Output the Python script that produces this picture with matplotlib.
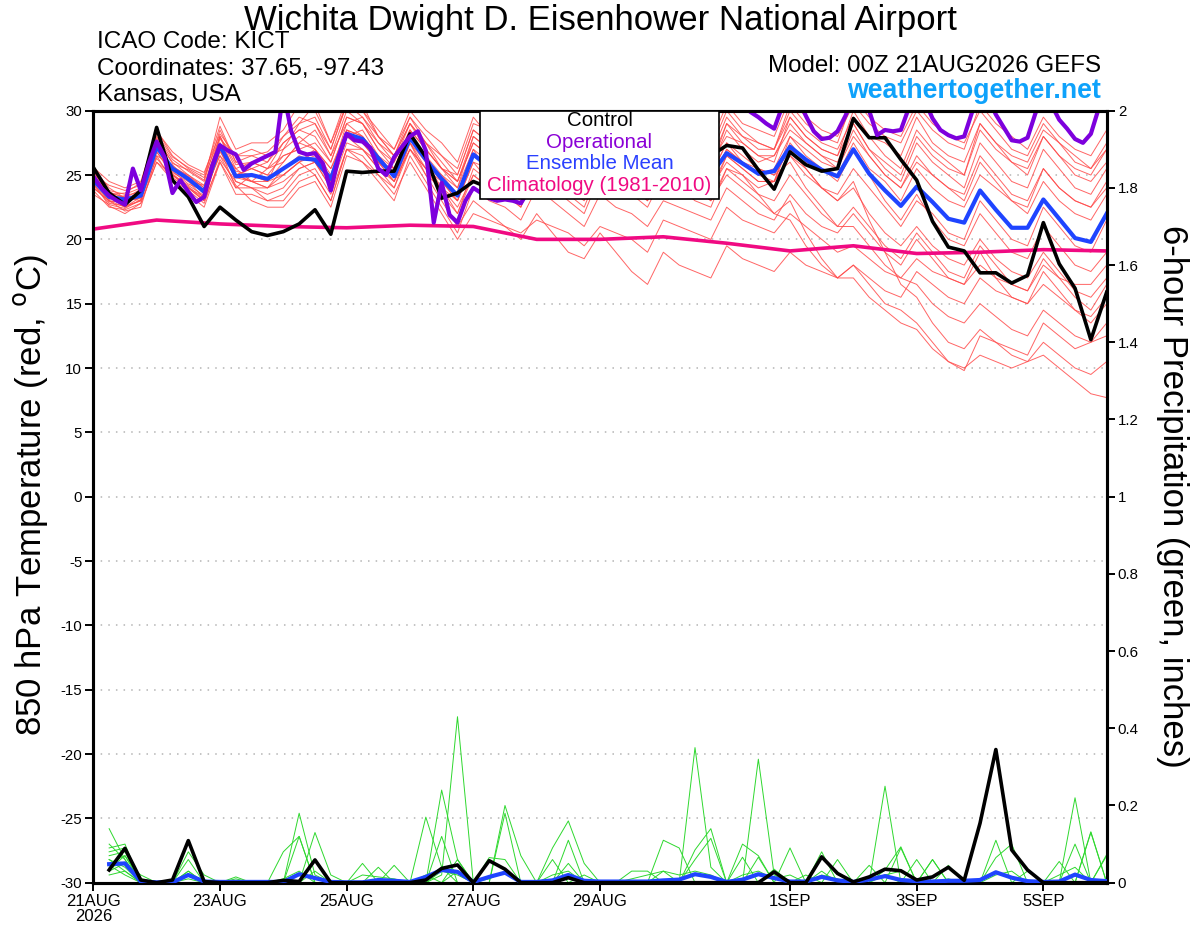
import numpy as np
import matplotlib
matplotlib.use("Agg")
import matplotlib.pyplot as plt
from matplotlib.patches import Rectangle

plt.rcParams['font.family'] = ['Liberation Sans', 'DejaVu Sans']
plt.rcParams['axes.unicode_minus'] = False

# forecast hours
hours6 = np.arange(0, 385, 6)      # GEFS, 6-hourly
hours3 = np.arange(0, 385, 3)      # operational GFS, 3-hourly
hours_day = np.arange(0, 385, 24)  # climatology, daily
hours_precip = hours6[1:]

tick_hours = [0, 48, 96, 144, 192, 264, 312, 360]
tick_labels = ["21AUG\n2026", "23AUG", "25AUG", "27AUG", "29AUG", "1SEP", "3SEP", "5SEP"]

# 850 hPa temperature (C)
control_t = [25.6, 23.6, 22.7, 23.8, 28.7, 24.6, 23.3, 21.0, 22.5, 21.5, 20.6, 20.3, 20.6,
             21.2, 22.3, 20.4, 25.3, 25.2, 25.3, 25.3, 28.2, 26.4, 23.2, 23.6, 24.5, 24.0,
             24.8, 25.5, 27.0, 26.0, 25.2, 24.5, 27.5, 26.5, 25.5, 24.5, 27.0, 26.0, 25.5,
             26.5, 27.3, 27.1, 25.4, 23.9, 26.8, 25.8, 25.3, 25.5, 29.4, 27.9, 27.9, 26.2,
             24.6, 21.4, 19.4, 19.1, 17.4, 17.4, 16.6, 17.2, 21.3, 18.1, 16.2, 12.2, 15.9]

mean_t = [24.6, 23.3, 23.1, 23.4, 27.2, 25.5, 24.7, 23.7, 27.3, 24.9, 25.0, 24.7, 25.5,
          26.3, 26.2, 24.7, 28.2, 27.8, 26.3, 24.9, 27.9, 26.2, 24.7, 23.4, 26.6, 25.6,
          25.2, 24.5, 26.8, 25.9, 25.5, 24.6, 26.9, 26.0, 25.4, 24.3, 26.5, 25.7, 25.0,
          25.0, 26.7, 25.9, 25.1, 25.3, 27.2, 26.2, 25.4, 24.9, 27.0, 25.1, 23.8, 22.6,
          24.1, 22.9, 21.6, 21.3, 23.8, 22.3, 20.9, 20.9, 23.1, 21.6, 20.1, 19.8, 22.0]

oper_t = [24.9, 24.0, 23.4, 23.0, 22.7, 25.5, 23.8, 25.9, 27.6, 26.4,
          23.6, 24.6, 23.7, 22.9, 23.3, 25.7, 27.3, 26.9, 26.6, 25.4,
          25.9, 26.2, 26.5, 26.8, 31.5, 28.4, 26.8, 26.6, 26.7, 25.9,
          23.8, 26.4, 28.2, 27.7, 27.6, 27.1, 25.5, 25.0, 26.4, 27.2,
          28.0, 28.4, 26.9, 21.3, 24.4, 21.9, 21.3, 23.0, 24.0, 23.6,
          23.2, 23.0, 23.1, 23.0, 22.8, 23.8, 25.0, 26.5, 27.5, 26.5,
          25.5, 25.0, 26.0, 27.5, 29.0, 30.5, 31.0, 30.5, 29.5, 28.5,
          28.8, 30.0, 31.0, 31.5, 31.0, 30.5, 30.0, 29.5, 29.5, 30.5,
          31.0, 31.0, 30.5, 29.9, 29.5, 29.0, 28.6, 30.3, 31.5, 31.0,
          29.6, 28.4, 27.8, 27.9, 28.4, 29.6, 31.0, 31.2, 30.0, 28.1,
          28.5, 28.4, 28.5, 30.2, 31.2, 30.8, 29.4, 28.5, 28.1, 27.85,
          28.0, 29.9, 31.5, 31.0, 29.7, 28.7, 27.7, 27.6, 27.9, 29.8,
          31.2, 30.5, 29.3, 28.6, 27.8, 27.5, 28.2, 30.2, 31.0]

clim_t = [20.8, 21.5, 21.2, 21.0, 20.9, 21.1, 21.0, 20.0, 20.0, 20.2, 19.7, 19.1, 19.5,
          18.9, 19.0, 19.2, 19.1]

members_t = [
    [25.2, 23.8, 23.5, 24.0, 28.0, 26.2, 25.3, 24.5, 28.5, 26.0, 26.5, 26.8, 28.0, 29.0, 29.5, 27.0,
     30.5, 30.0, 28.5, 27.0, 30.0, 28.5, 27.5, 26.0, 29.5, 28.0, 27.5, 27.0, 30.5, 29.0, 28.0, 27.5,
     31.0, 29.5, 28.5, 27.0, 30.0, 29.0, 28.0, 27.5, 30.5, 29.0, 28.5, 28.0, 31.0, 29.5, 28.5, 28.0,
     30.5, 29.0, 28.0, 27.5, 30.0, 28.5, 27.5, 27.0, 30.5, 29.0, 28.0, 27.0, 29.5, 28.0, 27.0, 26.5, 28.5],
    [24.0, 23.0, 22.5, 23.0, 27.5, 25.0, 24.0, 23.0, 27.0, 25.5, 26.0, 25.5, 27.5, 28.5, 28.0, 26.0,
     29.5, 29.0, 27.5, 26.5, 29.0, 27.5, 26.5, 25.0, 28.5, 27.5, 26.5, 26.0, 29.5, 28.0, 27.0, 26.5,
     29.0, 28.5, 27.5, 26.5, 29.5, 28.0, 27.0, 26.0, 29.0, 28.0, 27.5, 27.0, 30.0, 28.5, 27.5, 27.0,
     29.5, 28.0, 27.5, 26.5, 29.5, 27.5, 26.5, 26.0, 29.0, 27.5, 26.5, 26.0, 28.5, 27.5, 26.5, 25.5, 27.5],
    [25.5, 24.0, 23.2, 23.5, 26.5, 25.8, 24.5, 24.2, 28.0, 25.0, 24.5, 25.5, 26.0, 27.5, 28.5, 26.5,
     29.0, 29.5, 27.5, 26.0, 28.5, 27.0, 25.5, 24.5, 27.5, 26.5, 26.0, 25.0, 28.5, 27.5, 26.5, 25.5,
     28.0, 27.0, 26.0, 25.0, 28.0, 27.0, 26.0, 25.5, 28.5, 27.0, 26.0, 26.5, 29.0, 27.5, 26.5, 26.0,
     29.0, 27.0, 26.0, 25.0, 28.0, 26.5, 25.5, 25.0, 28.5, 27.0, 26.0, 25.5, 28.0, 26.5, 25.5, 25.0, 27.0],
    [24.5, 23.5, 23.0, 23.2, 27.0, 25.5, 24.8, 23.5, 27.5, 24.5, 24.0, 24.0, 25.0, 26.0, 27.0, 25.5,
     28.0, 28.5, 26.5, 25.0, 28.0, 26.5, 24.5, 23.0, 26.0, 25.5, 25.0, 24.0, 27.0, 26.0, 25.5, 24.0,
     27.0, 26.0, 25.0, 24.0, 27.5, 26.0, 25.5, 24.5, 27.0, 26.0, 25.0, 25.5, 28.0, 27.0, 26.0, 25.5,
     28.5, 26.5, 25.0, 24.0, 26.5, 25.0, 24.0, 23.5, 26.5, 25.0, 23.5, 23.0, 25.5, 24.0, 23.0, 22.5, 24.5],
    [24.8, 23.2, 23.0, 23.8, 27.8, 26.0, 25.0, 24.0, 26.5, 25.0, 25.5, 25.0, 26.5, 27.0, 26.0, 24.0,
     28.5, 27.5, 26.0, 25.5, 28.5, 26.0, 25.0, 24.0, 27.0, 25.0, 24.5, 23.5, 26.5, 25.0, 24.0, 23.0,
     26.0, 25.5, 24.5, 23.0, 25.5, 25.0, 24.5, 24.0, 26.5, 25.5, 24.5, 24.5, 27.5, 26.0, 25.5, 25.0,
     27.5, 25.5, 24.5, 23.0, 25.5, 24.0, 23.0, 22.5, 25.0, 24.0, 23.0, 22.0, 24.5, 23.0, 22.0, 21.5, 23.5],
    [23.8, 22.5, 22.3, 22.8, 26.0, 25.0, 24.0, 23.0, 26.0, 23.5, 23.5, 23.0, 23.5, 25.0, 25.5, 23.5,
     27.0, 26.5, 25.0, 24.0, 27.0, 25.5, 23.5, 22.0, 25.5, 24.5, 24.0, 23.0, 26.0, 25.0, 24.5, 23.5,
     26.5, 25.5, 24.5, 23.5, 26.0, 25.0, 24.0, 23.0, 25.5, 25.0, 24.0, 24.5, 26.5, 25.5, 24.0, 23.5,
     25.5, 24.0, 22.5, 21.0, 23.0, 22.0, 20.5, 20.0, 23.0, 21.5, 20.0, 19.5, 22.5, 21.0, 19.5, 19.0, 21.5],
    [25.0, 23.6, 23.3, 23.0, 27.5, 25.3, 24.3, 23.8, 28.0, 25.5, 24.5, 24.5, 26.0, 27.5, 27.0, 25.0,
     29.0, 28.0, 26.5, 25.5, 28.0, 26.5, 25.0, 23.5, 27.0, 26.0, 25.5, 24.5, 27.5, 26.5, 26.0, 25.0,
     27.5, 26.5, 26.0, 25.0, 27.0, 26.0, 25.5, 25.0, 27.5, 26.0, 25.5, 25.0, 27.0, 25.5, 24.0, 23.0,
     24.0, 22.0, 20.5, 19.5, 21.0, 19.5, 18.5, 18.0, 20.0, 18.5, 17.5, 17.0, 19.0, 17.5, 16.0, 15.5, 17.0],
    [24.2, 22.8, 22.6, 23.0, 26.8, 25.2, 24.5, 23.2, 27.0, 24.0, 24.0, 23.5, 24.0, 25.5, 26.0, 24.0,
     27.5, 27.0, 25.5, 24.0, 27.5, 25.0, 24.0, 22.5, 25.0, 24.0, 23.5, 22.5, 25.5, 24.0, 23.0, 22.0,
     25.0, 24.0, 23.5, 22.5, 25.0, 24.0, 23.0, 22.5, 25.5, 24.5, 23.5, 23.0, 25.0, 23.5, 22.0, 21.0,
     22.5, 21.0, 19.5, 18.5, 20.5, 19.0, 17.5, 17.0, 19.5, 18.0, 16.5, 16.0, 18.5, 17.0, 15.5, 14.5, 16.5],
    [25.3, 23.4, 22.8, 23.6, 27.2, 25.6, 25.0, 24.2, 27.8, 26.5, 27.0, 26.5, 27.0, 28.0, 27.0, 25.5,
     28.5, 28.0, 26.0, 24.5, 27.0, 25.0, 23.0, 21.0, 23.0, 22.0, 21.0, 20.0, 22.0, 20.5, 19.0, 18.5,
     20.5, 19.0, 17.5, 16.5, 19.0, 18.0, 17.5, 17.0, 19.5, 18.5, 18.0, 17.5, 19.0, 18.0, 17.5, 17.0,
     18.0, 17.0, 16.0, 15.5, 17.5, 16.5, 15.5, 15.0, 17.0, 16.0, 15.5, 15.0, 16.5, 15.5, 14.5, 14.0, 15.5],
    [24.0, 23.0, 22.2, 22.5, 26.5, 24.5, 23.5, 22.5, 26.0, 24.0, 25.0, 24.5, 27.0, 29.0, 30.5, 27.5,
     31.0, 30.5, 28.0, 26.5, 29.5, 27.5, 25.5, 24.0, 28.0, 27.0, 26.5, 25.0, 29.0, 27.0, 25.5, 24.5,
     28.5, 27.5, 27.0, 25.5, 28.5, 27.5, 26.5, 25.5, 29.0, 27.5, 26.5, 26.0, 29.5, 28.0, 27.0, 26.5,
     30.0, 28.0, 26.5, 25.5, 28.5, 27.0, 26.0, 25.0, 29.0, 27.5, 26.0, 25.0, 28.0, 26.5, 25.0, 24.5, 26.0],
    [24.6, 23.1, 23.4, 23.7, 27.0, 25.7, 24.9, 24.0, 27.2, 24.8, 24.5, 24.0, 25.5, 26.5, 26.0, 24.5,
     28.0, 27.5, 26.0, 25.0, 27.5, 26.0, 24.0, 23.0, 26.5, 25.5, 24.5, 24.0, 26.5, 25.5, 25.0, 24.0,
     26.5, 25.5, 25.0, 24.0, 26.0, 25.5, 24.5, 24.0, 26.0, 25.0, 23.5, 22.0, 23.0, 20.5, 18.5, 17.0,
     17.0, 15.5, 14.5, 13.5, 13.0, 11.5, 10.5, 10.0, 11.0, 10.5, 10.0, 10.5, 12.0, 11.0, 10.0, 9.5, 10.5],
    [23.5, 22.7, 22.4, 23.1, 26.3, 24.8, 24.0, 23.3, 26.8, 25.0, 25.5, 25.0, 25.0, 26.0, 25.0, 23.0,
     27.0, 27.0, 25.5, 24.5, 27.0, 25.5, 24.5, 23.5, 26.5, 25.5, 25.0, 24.5, 27.0, 26.0, 25.5, 24.5,
     27.0, 26.0, 25.5, 24.5, 26.5, 25.5, 25.0, 24.5, 27.0, 26.0, 25.0, 24.5, 26.5, 25.0, 24.0, 23.0,
     24.5, 21.5, 19.0, 16.5, 15.5, 13.5, 12.0, 11.5, 13.0, 12.0, 11.0, 10.5, 11.0, 10.0, 9.0, 8.0, 7.7],
    [25.0, 24.2, 23.8, 24.2, 28.5, 26.5, 25.5, 24.8, 28.0, 25.8, 26.0, 25.5, 26.5, 27.0, 27.5, 26.0,
     29.5, 29.0, 27.0, 25.5, 28.5, 27.0, 25.5, 24.5, 27.5, 26.5, 25.5, 25.0, 28.0, 27.0, 26.0, 25.0,
     27.5, 26.5, 25.5, 25.0, 27.0, 26.5, 25.5, 25.0, 27.5, 26.5, 25.5, 25.0, 26.0, 24.0, 22.5, 21.0,
     21.0, 19.5, 18.0, 17.0, 16.5, 15.0, 14.0, 13.5, 15.0, 14.0, 13.0, 12.5, 14.5, 13.5, 12.5, 12.0, 13.5],
    [25.4, 23.7, 23.2, 23.9, 27.9, 25.9, 25.4, 24.6, 29.5, 27.0, 27.5, 27.5, 28.5, 30.5, 30.0, 27.5,
     30.5, 29.5, 28.0, 27.0, 29.5, 28.0, 26.5, 25.5, 29.0, 28.5, 28.0, 27.0, 30.0, 29.0, 28.5, 27.5,
     30.5, 29.0, 28.0, 27.5, 29.5, 28.5, 27.5, 27.0, 30.0, 28.5, 27.5, 27.0, 30.5, 29.0, 28.0, 27.5,
     31.0, 29.5, 28.5, 28.0, 30.5, 29.0, 28.0, 27.5, 30.0, 28.5, 27.0, 26.5, 29.0, 27.5, 26.0, 25.5, 27.0],
    [24.3, 23.0, 22.9, 23.3, 26.8, 25.0, 24.2, 23.4, 27.5, 25.3, 25.0, 24.5, 25.0, 26.0, 26.5, 24.5,
     28.5, 28.0, 26.5, 25.0, 28.0, 26.0, 24.5, 23.0, 26.0, 24.5, 24.0, 23.5, 26.0, 25.0, 24.5, 23.5,
     26.5, 25.5, 24.5, 23.5, 26.5, 25.0, 24.0, 23.5, 26.5, 25.5, 24.5, 24.5, 28.0, 26.5, 25.5, 24.5,
     27.0, 25.0, 23.0, 21.5, 23.5, 21.5, 20.0, 19.5, 22.0, 20.5, 19.0, 18.5, 21.0, 19.5, 18.0, 17.5, 19.0],
    [25.1, 23.3, 22.5, 23.3, 27.4, 25.4, 24.6, 23.6, 26.5, 24.2, 23.0, 22.5, 22.5, 24.0, 24.5, 22.5,
     26.5, 26.0, 24.5, 23.0, 26.5, 24.5, 22.5, 20.5, 24.0, 23.0, 22.5, 21.5, 24.0, 23.0, 22.0, 21.0,
     23.5, 22.5, 22.0, 21.0, 23.0, 22.5, 22.0, 21.5, 24.0, 23.0, 22.0, 21.5, 23.5, 22.0, 21.0, 20.5,
     22.0, 20.5, 19.0, 18.0, 20.0, 18.5, 17.0, 16.5, 19.0, 17.0, 15.5, 15.0, 17.5, 16.0, 14.5, 13.5, 15.0],
    [24.9, 23.5, 23.6, 24.4, 28.2, 26.4, 25.6, 25.0, 28.8, 26.0, 25.5, 26.0, 27.5, 28.5, 29.0, 26.5,
     30.0, 29.0, 27.0, 26.0, 29.0, 27.5, 26.0, 24.5, 28.0, 27.0, 26.5, 26.0, 29.0, 27.5, 26.5, 26.0,
     29.5, 28.0, 27.0, 26.5, 29.0, 28.0, 27.0, 26.5, 29.5, 28.0, 27.0, 27.0, 29.5, 28.0, 27.0, 26.5,
     29.0, 27.0, 25.5, 24.5, 27.5, 26.0, 25.0, 24.0, 27.5, 26.0, 24.5, 24.0, 27.0, 25.5, 24.0, 23.5, 25.5],
    [24.7, 22.9, 23.1, 23.5, 27.1, 25.1, 24.1, 23.1, 27.0, 25.0, 24.5, 24.0, 24.5, 25.5, 26.0, 24.5,
     28.0, 27.0, 26.0, 24.5, 27.5, 25.5, 24.0, 22.0, 25.0, 24.0, 23.5, 22.5, 25.5, 24.5, 23.5, 22.5,
     25.5, 24.5, 24.0, 23.0, 25.5, 24.5, 24.0, 23.0, 25.0, 24.0, 23.0, 22.0, 21.5, 19.5, 18.0, 17.0,
     18.0, 16.5, 15.0, 14.5, 13.5, 12.0, 10.5, 9.8, 12.5, 12.0, 11.5, 11.0, 13.5, 12.5, 11.5, 12.0, 12.5],
    [24.4, 22.6, 22.0, 22.8, 26.0, 24.6, 23.8, 22.8, 26.2, 24.5, 24.0, 23.0, 23.0, 24.5, 25.0, 23.0,
     27.0, 26.0, 25.0, 23.5, 26.0, 24.0, 22.0, 20.0, 22.0, 21.5, 21.0, 20.5, 21.5, 21.0, 20.5, 19.5,
     21.0, 20.5, 20.0, 19.0, 21.5, 21.0, 20.5, 20.0, 22.5, 21.5, 21.0, 20.5, 22.0, 21.0, 20.0, 19.0,
     19.5, 18.5, 17.5, 17.0, 18.5, 17.5, 17.0, 16.5, 18.0, 17.0, 16.5, 16.0, 18.0, 17.0, 16.5, 16.5, 18.0],
    [25.6, 24.5, 24.0, 24.5, 28.4, 26.8, 25.8, 25.2, 28.2, 26.5, 26.5, 26.0, 28.0, 29.5, 29.0, 27.0,
     30.5, 30.0, 28.0, 26.5, 29.0, 27.0, 25.5, 25.0, 28.5, 27.5, 26.5, 25.5, 28.5, 27.5, 27.0, 26.0,
     29.0, 27.5, 26.5, 26.0, 28.0, 27.0, 26.0, 26.0, 28.0, 27.5, 26.5, 26.5, 28.5, 27.5, 26.5, 25.5,
     28.0, 26.5, 25.0, 24.0, 26.0, 25.0, 24.0, 23.0, 26.0, 24.5, 23.0, 22.5, 25.5, 24.0, 23.0, 22.5, 24.0],
]

# 6-hour precipitation (inches), from hour 6
control_p = [0.033, 0.089, 0.007, 0.0, 0.007, 0.109, 0.003, 0.0, 0.0, 0.0, 0.0, 0.006,
             0.003, 0.059, 0.0, 0.0, 0.0, 0.0, 0.0, 0.0, 0.007, 0.037, 0.046, 0.0,
             0.057, 0.035, 0.0, 0.0, 0.0, 0.013, 0.0, 0.0, 0.0, 0.0, 0.0, 0.0,
             0.0, 0.0, 0.0, 0.0, 0.0, 0.0, 0.028, 0.0, 0.0, 0.067, 0.024, 0.002,
             0.015, 0.035, 0.031, 0.007, 0.015, 0.04, 0.006, 0.154, 0.345, 0.085, 0.033, 0.0,
             0.0, 0.0, 0.0, 0.0]

mean_p = [0.048, 0.05, 0.003, 0.001, 0.001, 0.02, 0.003, 0.002, 0.002, 0.002, 0.002, 0.002,
          0.022, 0.012, 0.002, 0.001, 0.001, 0.007, 0.005, 0.002, 0.015, 0.033, 0.028, 0.002,
          0.015, 0.026, 0.002, 0.002, 0.006, 0.02, 0.005, 0.003, 0.003, 0.003, 0.003, 0.006,
          0.008, 0.022, 0.015, 0.002, 0.008, 0.022, 0.012, 0.003, 0.003, 0.015, 0.006, 0.002,
          0.008, 0.017, 0.007, 0.004, 0.003, 0.005, 0.005, 0.007, 0.027, 0.013, 0.004, 0.002,
          0.003, 0.021, 0.007, 0.004]

members_p = [
    [.14, .06, 0, 0, 0, .02, 0, 0, 0, 0, 0, 0, .18, .02, 0, 0,
     0, 0, 0, 0, 0, .02, .43, 0, 0, 0, 0, 0, 0, 0, 0, 0,
     0, 0, 0, 0, 0, .35, .04, 0, 0, 0, 0, 0, 0, 0, 0, 0,
     0, .02, 0, 0, 0, 0, 0, 0, 0, 0, 0, 0, 0, 0, 0, 0],
    [.09, .10, 0, 0, 0, .06, 0, 0, 0, 0, 0, 0, 0, .13, .02, 0,
     0, 0, 0, 0, .17, .04, 0, 0, 0, .20, .07, 0, 0, 0, 0, 0,
     0, 0, 0, 0, 0, 0, 0, 0, 0, .32, .02, 0, 0, 0, 0, 0,
     0, 0, 0, 0, 0, 0, 0, 0, 0, 0, 0, 0, 0, 0, 0, 0],
    [.07, .08, 0, 0, 0, .08, .02, 0, 0, 0, 0, .08, .12, 0, 0, 0,
     0, 0, 0, 0, 0, .24, .06, 0, 0, 0, 0, 0, .09, .16, .05, 0,
     0, 0, 0, 0, 0, 0, 0, 0, 0, 0, 0, 0, 0, 0, 0, 0,
     0, .25, 0, 0, 0, 0, 0, 0, 0, 0, 0, 0, 0, .22, 0, 0],
    [.05, .07, .01, 0, 0, .03, 0, 0, 0, 0, 0, 0, 0, 0, 0, 0,
     .05, 0, 0, 0, 0, .12, 0, 0, 0, 0, 0, 0, 0, .11, 0, 0,
     0, 0, 0, .11, .09, 0, 0, 0, 0, 0, 0, 0, 0, 0, 0, 0,
     0, 0, .09, 0, 0, 0, 0, 0, .11, 0, 0, 0, 0, 0, .13, 0],
    [.04, .05, 0, 0, 0, 0, 0, 0, 0, 0, 0, 0, 0, 0, 0, 0,
     0, .04, 0, 0, 0, 0, 0, 0, 0, .18, 0, 0, 0, 0, 0, 0,
     0, 0, 0, 0, 0, .085, .14, 0, .10, .07, 0, 0, 0, 0, 0, 0,
     0, 0, 0, .06, 0, 0, 0, 0, .065, .10, 0, 0, 0, 0, 0, 0],
    [.08, .09, 0, 0, 0, 0, 0, 0, 0, 0, 0, 0, 0, 0, 0, 0,
     0, 0, .045, 0, 0, 0, 0, 0, .065, .06, 0, 0, 0, 0, 0, 0,
     0, .03, .03, 0, 0, 0, 0, 0, 0, 0, 0, .09, 0, .08, 0, 0,
     0, 0, 0, 0, .06, 0, 0, 0, 0, 0, 0, 0, .055, 0, 0, .07],
    [.06, .04, 0, 0, 0, 0, 0, 0, .015, 0, 0, 0, 0, 0, 0, 0,
     0, 0, 0, 0, 0, 0, .06, 0, 0, 0, 0, 0, .06, 0, 0, 0,
     0, 0, 0, 0, 0, .06, .115, 0, .066, 0, .035, 0, 0, 0, .06, 0,
     .045, 0, 0, 0, 0, .045, 0, 0, 0, 0, 0, 0, 0, .10, 0, 0],
    [.10, .06, 0, 0, 0, 0, 0, 0, 0, 0, 0, 0, .12, 0, 0, 0,
     0, 0, 0, 0, 0, 0, 0, 0, 0, 0, 0, 0, 0, 0, 0, 0,
     0, 0, 0, 0, 0, 0, 0, 0, 0, .066, 0, 0, .02, 0, 0, 0,
     0, 0, 0, 0, 0, 0, 0, 0, 0, 0, 0, 0, 0, 0, .132, 0],
    [.02, .03, 0, 0, 0, 0, 0, 0, 0, 0, 0, 0, 0, .06, 0, 0,
     0, 0, 0, 0, 0, 0, 0, 0, 0, 0, 0, 0, 0, .05, 0, 0,
     0, 0, 0, .03, 0, 0, 0, 0, 0, 0, 0, 0, 0, .03, 0, 0,
     0, .033, .093, 0, 0, 0, 0, 0, 0, 0, .03, 0, 0, 0, 0, .073],
    [.035, .07, 0, 0, 0, 0, 0, 0, 0, 0, 0, 0, 0, 0, 0, 0,
     0, 0, 0, 0, 0, 0, 0, 0, 0, 0, 0, 0, 0, 0, 0, 0,
     0, 0, 0, 0, 0, 0, 0, 0, 0, 0, 0, 0, 0, 0, 0, 0,
     0, 0, 0, 0, .06, 0, 0, 0, 0, 0, 0, 0, 0, 0, 0, 0],
    [.03, .05, .02, 0, 0, 0, 0, 0, 0, 0, 0, 0, 0, 0, 0, 0,
     0, 0, 0, 0, 0, 0, 0, 0, 0, 0, 0, 0, 0, 0, 0, 0,
     0, 0, 0, 0, 0, 0, 0, 0, 0, 0, 0, 0, 0, 0, 0, 0,
     0, 0, 0, 0, 0, 0, 0, 0, 0, 0, 0, 0, 0, 0, 0, 0],
    [.045, .02, 0, 0, 0, .01, 0, 0, .01, 0, 0, .01, .03, 0, 0, 0,
     .02, .015, .01, 0, 0, .03, .02, 0, .01, .03, 0, 0, .02, .03, 0, 0,
     0, .01, .02, .03, .02, .03, .02, 0, .02, .03, .01, .02, 0, .02, .01, 0,
     .01, .02, .03, .01, 0, .01, 0, 0, .02, .03, 0, 0, .02, .04, 0, .01],
    [.06, .03, 0, 0, 0, .03, 0, 0, 0, 0, 0, 0, 0, .03, 0, 0,
     0, 0, 0, 0, .02, 0, .03, 0, 0, 0, 0, 0, 0, 0, .02, 0,
     0, 0, 0, 0, 0, 0, 0, 0, 0, 0, 0, 0, 0, 0, 0, 0,
     0, 0, 0, 0, 0, 0, 0, 0, 0, 0, 0, 0, 0, 0, 0, 0],
]

red = '#ff4a4a'
green = '#2ed82e'
purple = '#7d00dd'
blue = '#1f44ff'
magenta = '#f00a82'

fig = plt.figure(figsize=(12, 9.27), dpi=100)
ax = fig.add_axes([0.07775, 0.04779, 0.8445, 0.8328])

for m in members_t:
    ax.plot(hours6, m, color=red, lw=0.7, alpha=0.85, zorder=2)
ax.plot(hours_day, clim_t, color=magenta, lw=2.6, zorder=4)
ax.plot(hours6, mean_t, color=blue, lw=3, zorder=5)
ax.plot(hours6, control_t, color='black', lw=2.6, zorder=6)
ax.plot(hours3, oper_t, color=purple, lw=3, zorder=7)

ax.set_xlim(0, 384)
ax.set_ylim(-30, 30)
ax.set_yticks(np.arange(-30, 31, 5))
ax.set_yticklabels([str(v) for v in range(-30, 31, 5)])
ax.set_xticks(tick_hours)
ax.set_xticklabels(tick_labels, linespacing=1.0)
for v in range(-25, 30, 5):
    ax.axhline(v, color='#b4b4b4', lw=1.1, ls=(0, (1, 4)), zorder=1)

ax2 = ax.twinx()
for m in members_p:
    ax2.plot(hours_precip, m, color=green, lw=0.7, zorder=2)
ax2.plot(hours_precip, mean_p, color=blue, lw=3, zorder=4)
ax2.plot(hours_precip, control_p, color='black', lw=2.6, zorder=5)
ax2.set_ylim(0, 2)
ax2.set_yticks(np.arange(0, 2.01, 0.2))
ax2.set_yticklabels(['0', '0.2', '0.4', '0.6', '0.8', '1', '1.2', '1.4', '1.6', '1.8', '2'])

for a in (ax, ax2):
    for s in a.spines.values():
        s.set_linewidth(2.2)
    a.tick_params(direction='out', length=6, width=1.4, labelsize=10.8, pad=2)
ax.tick_params(axis='x', pad=2, labelsize=12)

# legend box
ax2.add_patch(Rectangle((0.3816, 0.8856), 0.2358, 0.1144, transform=ax2.transAxes,
                        facecolor='white', edgecolor='black', lw=1.2, zorder=20))
leg_items = [("Control", 'black', 0.9867), ("Operational", '#8a00d6', 0.9594),
             ("Ensemble Mean", '#2a40ff', 0.9322), ("Climatology (1981-2010)", magenta, 0.9037)]
for txt, c, yy in leg_items:
    ax2.text(0.4995, yy, txt, color=c, fontsize=14.8, ha='center', va='center',
             transform=ax2.transAxes, zorder=21)

# header texts
fig.text(0.5, 1 - 30 / 927, "Wichita Dwight D. Eisenhower National Airport",
         ha='center', va='baseline', fontsize=25)
fig.text(97 / 1200, 1 - 48 / 927, "ICAO Code: KICT", fontsize=17.5, va='baseline')
fig.text(97 / 1200, 1 - 74.7 / 927, "Coordinates: 37.65, -97.43", fontsize=17.5, va='baseline')
fig.text(97 / 1200, 1 - 101.3 / 927, "Kansas, USA", fontsize=17.5, va='baseline')
fig.text(1101 / 1200, 1 - 72 / 927, "Model: 00Z 21AUG2026 GEFS", fontsize=17.4,
         ha='right', va='baseline')
fig.text(1101 / 1200, 1 - 98 / 927, "weathertogether.net", fontsize=19.3,
         fontweight='bold', color='#0ea2fb', ha='right', va='baseline')

fig.text(31 / 1200, 1 - 495 / 927, r"850 hPa Temperature (red, $^{\mathrm{o}}$C)",
         rotation=90, ha='center', va='center', fontsize=25)
fig.text(1173 / 1200, 1 - 496 / 927, "6-hour Precipitation (green, inches)",
         rotation=270, ha='center', va='center', fontsize=25)

fig.savefig("out.png", dpi=100)
